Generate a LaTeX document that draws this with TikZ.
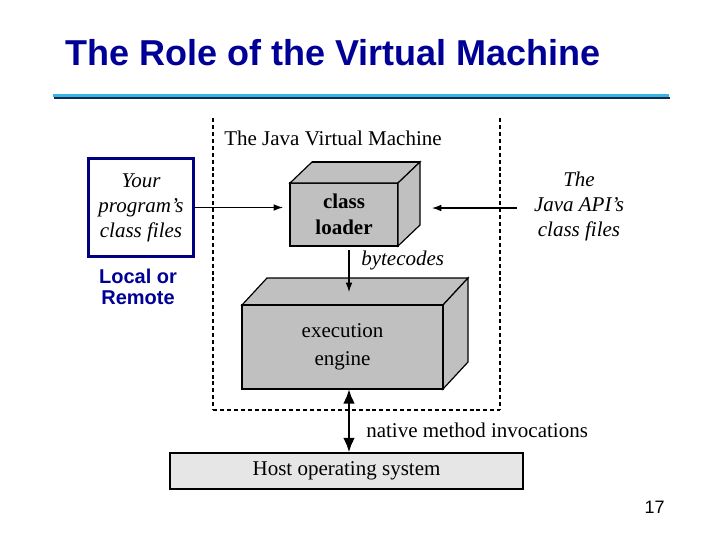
\documentclass[tikz,border=0pt]{standalone}
\usepackage{fontspec}
\setmainfont{Liberation Serif}
\setsansfont{Liberation Sans}
\usetikzlibrary{calc,arrows.meta}
\definecolor{titleblue}{RGB}{0,0,150}
\definecolor{boxblue}{RGB}{0,0,128}
\definecolor{rulecyan}{RGB}{56,182,226}
\definecolor{ruledark}{RGB}{20,40,80}
\definecolor{facegray}{RGB}{192,192,192}
\definecolor{hostgray}{RGB}{230,230,230}
\newcommand{\dtext}{\fontsize{15.75pt}{18.75pt}\selectfont}
\begin{document}
\begin{tikzpicture}[x=0.75pt,y=-0.75pt,
  face/.style={draw=black,fill=facegray,line width=0.9pt,line join=miter},
  frontbox/.style={face,inner sep=0pt,outer sep=0pt,align=center,font=\dtext},
  lbl/.style={inner sep=0pt,align=center,font=\dtext},
  arr/.style={-{Latex[length=7pt,width=5pt]},line width=0.8pt},
  dbl/.style={{Latex[length=11pt,width=9pt]}-{Latex[length=11pt,width=9pt]},line width=2.2pt},
  jvm/.style={dash pattern=on 3pt off 2.2pt,line width=0.8pt}]
\useasboundingbox[fill=white] (0,0) rectangle (720,540);

% title
\node[anchor=base west,inner sep=0pt,font=\sffamily\bfseries\fontsize{27pt}{30pt}\selectfont,text=titleblue] (title) at (65,65) {The Role of the Virtual Machine};
\draw[ruledark,line width=1.2pt] (54,97.8) -- (670,97.8);
\draw[rulecyan,line width=2.4pt] (53,95.8) -- (669,95.8);

% JVM dashed boundary
\draw[jvm] (213,118) -- (213,410);
\draw[jvm] (500,118) -- (500,410);
\draw[jvm,line width=1.4pt] (213,410) -- (500,410);
\node[lbl] (jvmlbl) at (333,138) {The Java Virtual Machine};

% class loader
\node[frontbox,font=\dtext\bfseries,minimum width=81pt,minimum height=47.25pt] (cl) at (344,214.5) {class\\[1pt]loader};
\draw[face] (cl.north west) -- ++(22,-21) -- ($(cl.north east)+(22,-21)$) -- (cl.north east) -- cycle;
\draw[face] (cl.north east) -- ++(22,-21) -- ++(0,63) -- (cl.south east) -- cycle;
\draw[line width=1.6pt] ($(cl.north west)+(22,-21)$) -- ($(cl.north east)+(22,-21)$);

% execution engine
\node[frontbox,minimum width=150.75pt,minimum height=63pt] (ee) at (342.5,347) {execution\\[2pt]engine};
\draw[face] (ee.north west) -- ++(25,-27) -- ($(ee.north east)+(25,-27)$) -- (ee.north east) -- cycle;
\draw[face] (ee.north east) -- ++(25,-27) -- ++(0,84) -- (ee.south east) -- cycle;
\draw[line width=1.6pt] (ee.north west) -- (ee.north east) -- (ee.south east);

% host OS
\node[draw=black,fill=hostgray,line width=0.8pt,inner sep=0pt,minimum width=264.75pt,minimum height=27pt,font=\dtext] (host) at (346.5,471) {Host operating system};

% left: your program's class files
\node[draw=boxblue,line width=2.3pt,inner sep=0pt,minimum width=78.75pt,minimum height=73.5pt,align=center,font=\dtext\itshape] (yp) at (141,207.5) {Your\\program's\\class files};
\node[inner sep=0pt,align=center,text=titleblue,font=\sffamily\bfseries\fontsize{15pt}{15.75pt}\selectfont] (lr) at (138,286.5) {Local or\\Remote};

% right: Java API class files
\node[lbl,font=\dtext\itshape] (api) at (579,206) {The\\Java API's\\class files};

% labels
\node[lbl,font=\dtext\itshape,anchor=west] (bc) at (361,260) {bytecodes};
\node[lbl,anchor=west] (nmi) at (366,430) {native method invocations};

% connectors
\coordinate (ax) at (349,0);
\coordinate (ay) at (0,208);
\draw[arr,shorten >=5.25pt] (yp.east) -- (yp.east -| cl.west);
\draw[arr,shorten <=12.75pt,shorten >=25.5pt] (api.west |- ay) -- (cl.east |- ay);
\draw[arr,shorten <=3pt,shorten >=9.75pt] (cl.south -| ax) -- (ee.north -| ax);
\draw[dbl] (ee.south -| ax) -- (host.north -| ax);

% page number
\node[anchor=base east,inner sep=0pt,font=\sffamily\fontsize{13.5pt}{15pt}\selectfont] (pg) at (665,513) {17};
\end{tikzpicture}
\end{document}
